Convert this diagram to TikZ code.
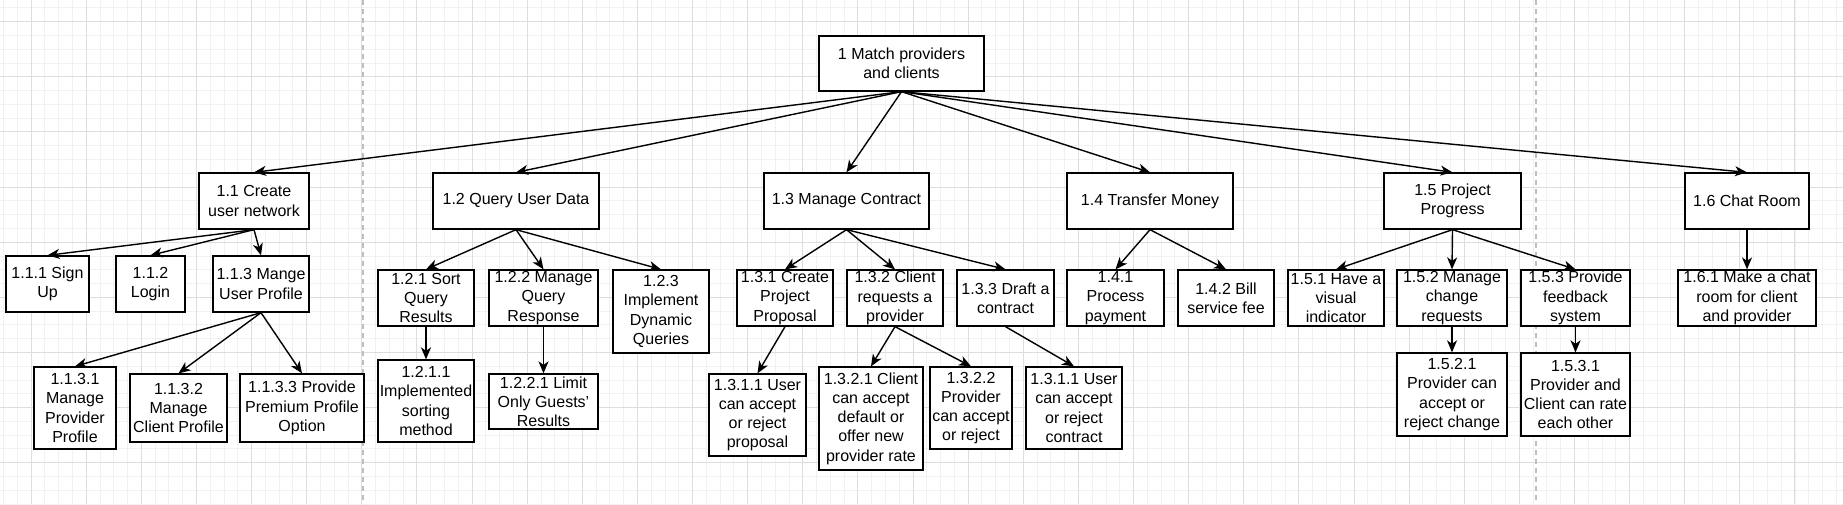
\documentclass[tikz,border=0pt]{standalone}
\usepackage{fontspec}
\setmainfont{Liberation Sans}
\usetikzlibrary{arrows.meta}
\definecolor{minorg}{RGB}{241,241,241}
\definecolor{majorg}{RGB}{221,221,221}
\definecolor{pagebr}{RGB}{190,190,190}
\newcommand\wbsbox[6]{\node[box, minimum width={#4-#2}, minimum height={#5-#3}] (#1) at ({(#2+#4)/2},{(#3+#5)/2}) {#6};}
\tikzset{
  box/.style={draw=black, line width=1.3pt, fill=white, inner sep=0pt, align=center,
    font=\fontsize{16}{19.2}\selectfont, rectangle},
  edge/.style={draw=black, line width=1.4pt, -{Stealth[length=12pt,width=10pt,inset=3.5pt]}},
  minorgrid/.style={draw=minorg, line width=0.9pt},
  majorgrid/.style={draw=majorg, line width=1pt},
  pagebreak/.style={draw=pagebr, line width=1.5pt, dash pattern=on 5pt off 4pt}
}
\begin{document}
\begin{tikzpicture}[x=1pt,y=-1pt]
\useasboundingbox (0,0) rectangle (1843,504);
\fill[white] (0,0) rectangle (1843,504);
% grid
\foreach \i in {0,...,133} \draw[minorgrid] ({3.54+\i*13.78},0) -- ++(0,504);
\foreach \j in {0,...,36} \draw[minorgrid] (0,{7.92+\j*13.78}) -- ++(1843,0);
\foreach \i in {0,...,33} \draw[majorgrid] ({31.1+\i*55.12},0) -- ++(0,504);
\foreach \j in {0,...,8} \draw[majorgrid] (0,{21.7+\j*55.12}) -- ++(1843,0);
\draw[pagebreak] (363,0) -- (363,504);
\draw[pagebreak] (1536,0) -- (1536,504);
% boxes
\wbsbox{r}{819}{36}{984}{91}{1 Match providers\\and clients}
\wbsbox{a}{199}{173}{309}{229}{1.1 Create\\user network}
\wbsbox{b}{433}{173}{599}{229}{1.2 Query User Data}
\wbsbox{c}{764}{173}{929}{229}{1.3 Manage Contract}
\wbsbox{d}{1067}{173}{1233}{229}{1.4 Transfer Money}
\wbsbox{e}{1384}{173}{1521}{229}{1.5 Project\\Progress}
\wbsbox{f}{1685}{173}{1809}{229}{1.6 Chat Room}
\wbsbox{a1}{6}{256}{89}{312}{1.1.1 Sign\\Up}
\wbsbox{a2}{116}{256}{185}{312}{1.1.2\\Login}
\wbsbox{a3}{213}{256}{309}{312}{1.1.3 Mange\\User Profile}
\wbsbox{a31}{34}{367}{116}{449}{1.1.3.1\\Manage\\Provider\\Profile}
\wbsbox{a32}{130}{374}{227}{442}{1.1.3.2\\Manage\\Client Profile}
\wbsbox{a33}{240}{374}{364}{442}{1.1.3.3 Provide\\Premium Profile\\Option}
\wbsbox{b1}{378}{270}{474}{326}{1.2.1 Sort\\Query\\Results}
\wbsbox{b2}{489}{270}{598}{326}{1.2.2 Manage\\Query\\Response}
\wbsbox{b3}{613}{270}{709}{353}{1.2.3\\Implement\\Dynamic\\Queries}
\wbsbox{b11}{378}{360}{474}{442}{1.2.1.1\\Implemented\\sorting\\method}
\wbsbox{b21}{489}{374}{598}{429}{1.2.2.1 Limit\\Only Guests'\\Results}
\wbsbox{c1}{737}{270}{833}{326}{1.3.1 Create\\Project\\Proposal}
\wbsbox{c2}{847}{270}{943}{326}{1.3.2 Client\\requests a\\provider}
\wbsbox{c3}{957}{270}{1054}{326}{1.3.3 Draft a\\contract}
\wbsbox{c11}{709}{374}{806}{456}{1.3.1.1 User\\can accept\\or reject\\proposal}
\wbsbox{c21}{819}{367}{923}{470}{1.3.2.1 Client\\can accept\\default or\\offer new\\provider rate}
\wbsbox{c22}{930}{367}{1012}{449}{1.3.2.2\\Provider\\can accept\\or reject}
\wbsbox{c31}{1026}{367}{1122}{449}{1.3.1.1 User\\can accept\\or reject\\contract}
\wbsbox{d1}{1067}{270}{1164}{326}{1.4.1\\Process\\payment}
\wbsbox{d2}{1178}{270}{1274}{326}{1.4.2 Bill\\service fee}
\wbsbox{e1}{1288}{270}{1384}{326}{1.5.1 Have a\\visual\\indicator}
\wbsbox{e2}{1397}{270}{1507}{326}{1.5.2 Manage\\change\\requests}
\wbsbox{e3}{1521}{270}{1630}{326}{1.5.3 Provide\\feedback\\system}
\wbsbox{e21}{1397}{353}{1507}{436}{1.5.2.1\\Provider can\\accept or\\reject change}
\wbsbox{e31}{1521}{353}{1630}{436}{1.5.3.1\\Provider and\\Client can rate\\each other}
\wbsbox{f1}{1678}{270}{1816}{326}{1.6.1 Make a chat\\room for client\\and provider}
% edges
\foreach \t in {a,b,c,d,e,f} \draw[edge] (r.south) -- (\t.north);
\foreach \t in {a1,a2,a3} \draw[edge] (a.south) -- (\t.north);
\foreach \t in {a31,a32,a33} \draw[edge] (a3.south) -- (\t.north);
\foreach \t in {b1,b2,b3} \draw[edge] (b.south) -- (\t.north);
\draw[edge] (b1.south) -- (b11.north);
\draw[edge] (b2.south) -- (b21.north);
\foreach \t in {c1,c2,c3} \draw[edge] (c.south) -- (\t.north);
\draw[edge] (c1.south) -- (c11.north);
\foreach \t in {c21,c22} \draw[edge] (c2.south) -- (\t.north);
\draw[edge] (c3.south) -- (c31.north);
\foreach \t in {d1,d2} \draw[edge] (d.south) -- (\t.north);
\foreach \t in {e1,e2,e3} \draw[edge] (e.south) -- (\t.north);
\draw[edge] (e2.south) -- (e21.north);
\draw[edge] (e3.south) -- (e31.north);
\draw[edge] (f.south) -- (f1.north);
\end{tikzpicture}
\end{document}
